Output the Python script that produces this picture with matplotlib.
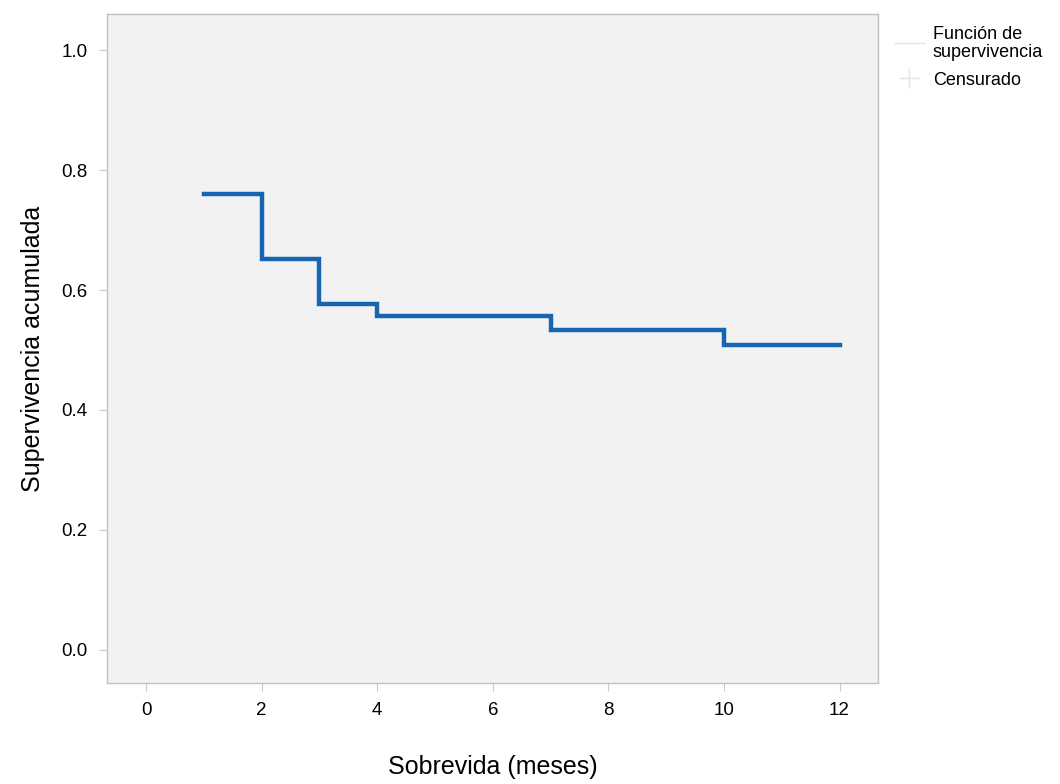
import matplotlib
matplotlib.use("Agg")
import matplotlib.pyplot as plt
from matplotlib.lines import Line2D

plt.rcParams['font.family'] = ['Liberation Sans', 'DejaVu Sans']

# Kaplan-Meier step values
times = [1, 2, 3, 4, 7, 10, 12]
survival = [0.76, 0.652, 0.577, 0.557, 0.534, 0.509, 0.509]

x_ticks = [0, 2, 4, 6, 8, 10, 12]
y_ticks = [0.0, 0.2, 0.4, 0.6, 0.8, 1.0]

fig = plt.figure(figsize=(10.6, 7.84), dpi=100)
ax = fig.add_axes([0.101, 0.129, 0.727, 0.853])
ax.set_facecolor('#f2f2f2')

ax.step(times, survival, where='post', color='#1565b0', linewidth=3.2,
        solid_joinstyle='miter')

ax.set_xlim(-0.674, 12.66)
ax.set_ylim(-0.055, 1.06)
ax.set_xticks(x_ticks)
ax.set_yticks(y_ticks)
ax.set_yticklabels([f"{v:.1f}" for v in y_ticks])
ax.tick_params(axis='both', direction='out', length=6, width=0.8,
               color='#c8c8c8', labelsize=13.5, pad=8)

for s in ax.spines.values():
    s.set_color('#c0c0c0')
    s.set_linewidth(1.0)

ax.set_xlabel('Sobrevida (meses)', fontsize=18, labelpad=26)
ax.set_ylabel('Supervivencia acumulada', fontsize=18, labelpad=12)

handles = [
    Line2D([0], [0], color='#e4e4e4', linewidth=1.0),
    Line2D([0], [0], color='#e4e4e4', marker='+', markersize=14,
           linestyle='None'),
]
labels = ['Función de\nsupervivencia', 'Censurado']
leg = fig.legend(handles, labels, loc='upper left',
                 bbox_to_anchor=(0.829, 0.988), frameon=False, fontsize=13,
                 handlelength=1.6, handletextpad=0.5, labelspacing=0.6)
for t in leg.get_texts():
    t.set_linespacing(1.08)

fig.savefig('out.png', dpi=100, facecolor='white')
